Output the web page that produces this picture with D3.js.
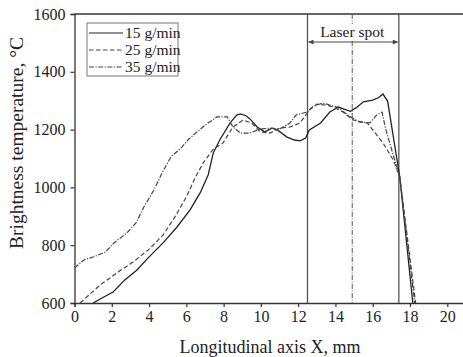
<!DOCTYPE html>
<html><head><meta charset="utf-8">
<script src="https://cdn.jsdelivr.net/npm/d3@7"></script>
<style>
html,body{margin:0;padding:0;background:#fff;}
svg{display:block;font-family:"Liberation Serif","Times New Roman",serif;}
</style></head>
<body><svg id="c" width="463" height="357"></svg>
<script>
const xTicks = [0,2,4,6,8,10,12,14,16,18,20];
const yTicks = [600,800,1000,1200,1400,1600];
const seriesNames = ["15 g/min","25 g/min","35 g/min"];
const s15 = [[1.0,600],[1.5,618],[2.07,638],[2.7,680],[3.35,714],[3.95,756],[4.75,808],[5.5,863],[6.2,922],[6.74,981],[7.17,1043],[7.45,1120],[7.8,1165],[8.35,1223],[8.7,1250],[8.9,1254],[9.2,1248],[9.4,1238],[9.8,1209],[10.2,1192],[10.6,1205],[10.9,1198],[11.4,1174],[11.8,1164],[12.1,1161],[12.4,1171],[12.6,1199],[13.2,1223],[13.7,1261],[14.15,1278],[14.5,1270],[14.8,1263],[15.1,1275],[15.5,1296],[16.0,1302],[16.3,1310],[16.55,1323],[16.8,1298],[17.45,1036],[18.15,600]];
const s25 = [[0.3,600],[1.37,662],[2.27,704],[3.14,742],[3.95,783],[4.75,835],[5.39,898],[6.0,967],[6.47,1033],[6.9,1084],[7.4,1129],[7.97,1154],[8.5,1209],[9.05,1233],[9.5,1223],[9.96,1192],[10.5,1188],[11.0,1205],[11.56,1209],[12.1,1223],[12.6,1268],[13.0,1288],[13.5,1285],[13.9,1278],[14.4,1261],[14.95,1233],[15.7,1223],[16.0,1199],[16.55,1154],[17.1,1095],[17.45,1036],[18.3,600]];
const s35 = [[0,721],[0.5,749],[1.04,760],[1.67,777],[2.1,807],[2.8,842],[3.3,877],[3.72,932],[4.26,991],[4.7,1050],[5.17,1105],[5.77,1140],[6.1,1165],[6.57,1192],[7.1,1220],[7.65,1244],[8.2,1244],[8.5,1209],[8.9,1188],[9.4,1188],[9.96,1202],[10.5,1205],[11.0,1202],[11.56,1223],[11.9,1251],[12.5,1261],[12.8,1280],[13.3,1292],[14.1,1278],[14.8,1244],[15.3,1226],[15.85,1223],[16.2,1250],[16.5,1260],[16.7,1200],[17.45,1036],[18.25,600]];
const spotLines = [12.5, 14.9, 17.4];
const spotLabel = "Laser spot";
const xTitle = "Longitudinal axis X, mm";
const yTitle = "Brightness temperature, °C";

const svg = d3.select("#c");
const x = d3.scaleLinear().domain([0,21]).range([74.5, 74.5+21*18.64]);
const y = d3.scaleLinear().domain([600,1600]).range([303,14]);
const ink = "#333";

svg.append("defs").append("clipPath").attr("id","clip")
  .append("rect").attr("x",x(0)).attr("y",y(1600)).attr("width",x(21)-x(0)).attr("height",y(600)-y(1600));

// frame top
svg.append("line").attr("x1",x(0)).attr("x2",x(21)).attr("y1",y(1600)).attr("y2",y(1600)).attr("stroke",ink).attr("stroke-width",1.3);

// axes
const xa = svg.append("g").attr("transform",`translate(0,${y(600)})`)
  .call(d3.axisBottom(x).tickValues(xTicks).tickSize(4).tickPadding(4).tickFormat(d3.format("d")));
const ya = svg.append("g").attr("transform",`translate(${x(0)},0)`)
  .call(d3.axisLeft(y).tickValues(yTicks).tickSize(4).tickPadding(5).tickFormat(d3.format("d")));
[xa,ya].forEach(g=>{
  g.select(".domain").attr("stroke",ink).attr("stroke-width",1.3);
  g.selectAll(".tick line").attr("stroke",ink).attr("stroke-width",1.2);
  g.selectAll("text").attr("fill","#222").style("font-size","16px").style("font-family","Liberation Serif");
});

// vertical spot lines
const plot = svg.append("g").attr("clip-path","url(#clip)");
spotLines.forEach((v,i)=>{
  plot.append("line").attr("x1",x(v)).attr("x2",x(v)).attr("y1",y(1600)).attr("y2",y(600))
    .attr("stroke", i===1 ? "#666" : "#555").attr("stroke-width", i===1?1.1:1.3)
    .attr("stroke-dasharray", i===1 ? "5,1.5,1,1.5" : null);
});

// arrow
const defs = svg.select("defs");
defs.append("marker").attr("id","ah").attr("viewBox","0 0 10 10").attr("refX",10).attr("refY",5)
  .attr("markerWidth",7).attr("markerHeight",5).attr("orient","auto-start-reverse")
  .append("path").attr("d","M0,0L10,5L0,10z").attr("fill","#444");
svg.append("line").attr("x1",x(spotLines[0])+1).attr("x2",x(spotLines[2])-1).attr("y1",42).attr("y2",42)
  .attr("stroke","#444").attr("stroke-width",1).attr("marker-start","url(#ah)").attr("marker-end","url(#ah)");
svg.append("rect").attr("x",x(spotLines[1])-33).attr("y",24).attr("width",66).attr("height",16).attr("fill","#fff");
svg.append("text").attr("x",x(spotLines[1])).attr("y",37).attr("text-anchor","middle")
  .style("font-size","15.5px").attr("fill","#222").text(spotLabel);

// series
const line = d3.line().x(d=>x(d[0])).y(d=>y(d[1]));
const dashes = [null, "4.5,2.5", "5,1.5,1.2,1.5"];
[s15,s25,s35].forEach((s,i)=>{
  plot.append("path").datum(s).attr("d",line).attr("fill","none")
    .attr("stroke", i===0? "#222" : "#444").attr("stroke-width", i===0?1.3:1.2)
    .attr("stroke-dasharray", dashes[i]);
});

// legend
const lg = svg.append("g");
lg.append("rect").attr("x",87).attr("y",23).attr("width",91).attr("height",53)
  .attr("fill","#fff").attr("stroke","#777").attr("stroke-width",1);
seriesNames.forEach((n,i)=>{
  const yy = 33 + i*17;
  lg.append("line").attr("x1",89).attr("x2",123).attr("y1",yy).attr("y2",yy)
    .attr("stroke", i===0? "#222":"#444").attr("stroke-width",1.2).attr("stroke-dasharray",dashes[i]);
  lg.append("text").attr("x",125).attr("y",yy+5).style("font-size","15.5px").attr("fill","#222").text(n);
});

// titles
svg.append("text").attr("x",270).attr("y",353).attr("text-anchor","middle")
  .style("font-size","18px").attr("fill","#222").text(xTitle);
svg.append("text").attr("transform","translate(23,143) rotate(-90)").attr("text-anchor","middle")
  .style("font-size","19.5px").attr("fill","#222").text(yTitle);
</script></body></html>
